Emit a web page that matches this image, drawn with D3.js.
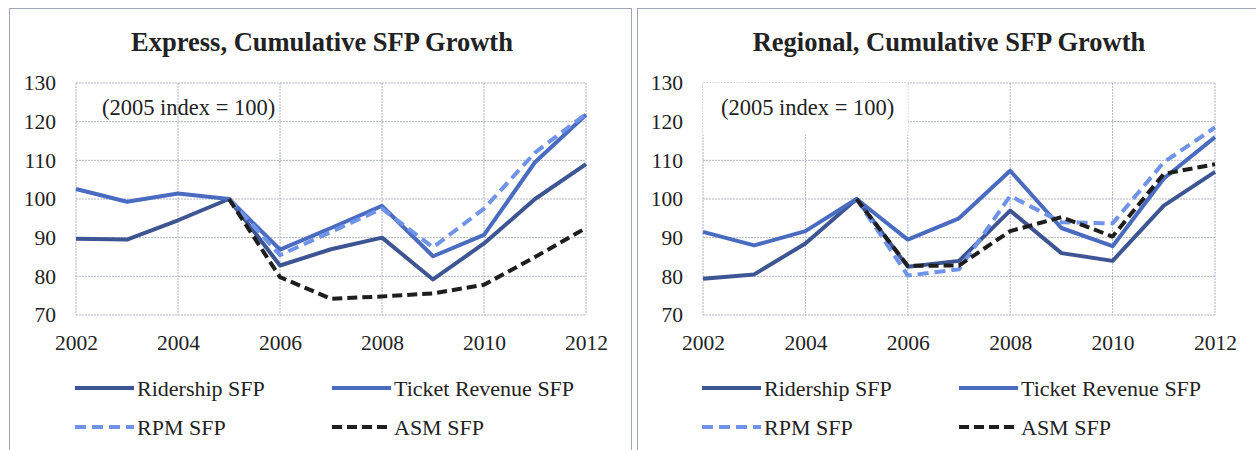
<!DOCTYPE html>
<html>
<head>
<meta charset="utf-8">
<script src="https://cdn.jsdelivr.net/npm/d3@7"></script>
<style>
  body { margin: 0; background: #fff; }
  svg { display: block; font-family: "Liberation Serif", "DejaVu Serif", serif; }
</style>
</head>
<body>
<svg width="1256" height="450"></svg>
<script>
const years = [2002, 2003, 2004, 2005, 2006, 2007, 2008, 2009, 2010, 2011, 2012];
const xTicks = [2002, 2004, 2006, 2008, 2010, 2012];
const yTicks = [70, 80, 90, 100, 110, 120, 130];

// Express
const expressRidership = [89.7, 89.5, 94.5, 100, 82.8, 87, 90, 79.2, 88.5, 100, 109];
const expressTicket = [102.6, 99.3, 101.4, 100, 86.9, 92.5, 98.2, 85.2, 90.7, 109.5, 121.8];
const expressRPM = [null, null, null, 100, 85.5, 91.5, 97.5, 87.5, 97.5, 112, 122];
const expressASM = [null, null, null, 100, 79.8, 74.2, 74.8, 75.6, 77.8, 85, 92.5];

// Regional
const regionalRidership = [79.4, 80.5, 88.5, 100, 82.5, 84, 97, 86, 84, 98.3, 107];
const regionalTicket = [91.5, 88, 91.7, 100, 89.5, 95, 107.3, 92.5, 87.8, 105.3, 116];
const regionalRPM = [null, null, null, 100, 80.2, 81.8, 100.8, 94, 93.7, 109.5, 118.5];
const regionalASM = [null, null, null, 100, 82.7, 82.8, 91.7, 95.3, 90.3, 106.5, 109];

const seriesNames = ["Ridership SFP", "Ticket Revenue SFP", "RPM SFP", "ASM SFP"];

const styles = {
  "Ridership SFP": { color: "#3d5592", dash: null },
  "Ticket Revenue SFP": { color: "#4a6cc0", dash: null },
  "RPM SFP": { color: "#6e93e8", dash: "11,6" },
  "ASM SFP": { color: "#1e1e1e", dash: "10,5" }
};

const svg = d3.select("svg");

// panel frames
svg.append("rect")
  .attr("x", 9.5).attr("y", 8.5).attr("width", 622).attr("height", 460)
  .attr("fill", "none").attr("stroke", "#9ea6b8").attr("stroke-width", 1);
svg.append("rect")
  .attr("x", 637.5).attr("y", 8.5).attr("width", 630).attr("height", 460)
  .attr("fill", "none").attr("stroke", "#9ea6b8").attr("stroke-width", 1);

function drawPanel(opts) {
  const g = svg.append("g");
  const x = d3.scaleLinear().domain([2002, 2012]).range([opts.left, opts.right]);
  const y = d3.scaleLinear().domain([70, 130]).range([315, 83]);

  // title
  g.append("text")
    .attr("x", opts.titleX).attr("y", 51)
    .attr("text-anchor", "middle")
    .attr("font-weight", "bold").attr("font-size", 26.5)
    .attr("fill", "#222")
    .text(opts.title);

  // grid
  g.append("g").selectAll("line.h").data(yTicks).join("line")
    .attr("x1", opts.left).attr("x2", opts.right)
    .attr("y1", d => y(d)).attr("y2", d => y(d))
    .attr("stroke", "#b4b8c4").attr("stroke-width", 1)
    .attr("stroke-dasharray", "2,1");
  g.append("g").selectAll("line.v").data(xTicks).join("line")
    .attr("x1", d => x(d)).attr("x2", d => x(d))
    .attr("y1", y(130)).attr("y2", y(70))
    .attr("stroke", "#aab4cc").attr("stroke-width", 1)
    .attr("stroke-dasharray", "2,1");

  // annotation
  if (opts.boxed) {
    g.append("rect")
      .attr("x", opts.left).attr("y", y(130))
      .attr("width", x(2006) - opts.left).attr("height", 52)
      .attr("fill", "#fff");
  }
  g.append("text")
    .attr("x", opts.left + opts.noteDx).attr("y", 115)
    .attr("font-size", 22.5).attr("fill", "#222")
    .text("(2005 index = 100)");

  // axis labels
  const yAxis = d3.axisLeft(y).tickValues(yTicks).tickSize(0).tickPadding(20);
  g.append("g").attr("transform", `translate(${opts.left},0)`).call(yAxis)
    .call(a => a.select(".domain").remove())
    .selectAll("text").attr("font-size", 21.5).attr("font-family", "Liberation Serif").attr("fill", "#222");

  const xAxis = d3.axisBottom(x).tickValues(xTicks).tickFormat(d3.format("d")).tickSize(0).tickPadding(20);
  g.append("g").attr("transform", `translate(0,${y(70)})`).call(xAxis)
    .call(a => a.select(".domain").remove())
    .selectAll("text").attr("font-size", 21.5).attr("font-family", "Liberation Serif").attr("fill", "#222");

  // lines
  const line = d3.line()
    .defined(d => d[1] != null)
    .x(d => x(d[0])).y(d => y(d[1]));

  opts.series.forEach((vals, i) => {
    const s = styles[seriesNames[i]];
    g.append("path")
      .datum(years.map((yr, j) => [yr, vals[j]]))
      .attr("d", line)
      .attr("fill", "none")
      .attr("stroke", s.color)
      .attr("stroke-width", 4)
      .attr("stroke-linejoin", "round")
      .attr("stroke-dasharray", s.dash);
  });

  // legend
  const legPos = [
    { dx: -1, y: 388 }, { dx: 256, y: 388 },
    { dx: -1, y: 427 }, { dx: 256, y: 427 }
  ];
  seriesNames.forEach((name, i) => {
    const s = styles[name];
    const p = legPos[i];
    g.append("line")
      .attr("x1", opts.left + p.dx).attr("x2", opts.left + p.dx + 59)
      .attr("y1", p.y).attr("y2", p.y)
      .attr("stroke", s.color).attr("stroke-width", 4)
      .attr("stroke-dasharray", s.dash);
    g.append("text")
      .attr("x", opts.left + p.dx + 62).attr("y", p.y)
      .attr("dy", "0.35em")
      .attr("font-size", 22).attr("fill", "#222")
      .text(name);
  });
}

drawPanel({
  title: "Express, Cumulative SFP Growth",
  titleX: 322,
  left: 76, right: 586,
  noteDx: 26, boxed: false,
  series: [expressRidership, expressTicket, expressRPM, expressASM]
});

drawPanel({
  title: "Regional, Cumulative SFP Growth",
  titleX: 949,
  left: 703, right: 1215,
  noteDx: 18, boxed: true,
  series: [regionalRidership, regionalTicket, regionalRPM, regionalASM]
});
</script>
</body>
</html>
